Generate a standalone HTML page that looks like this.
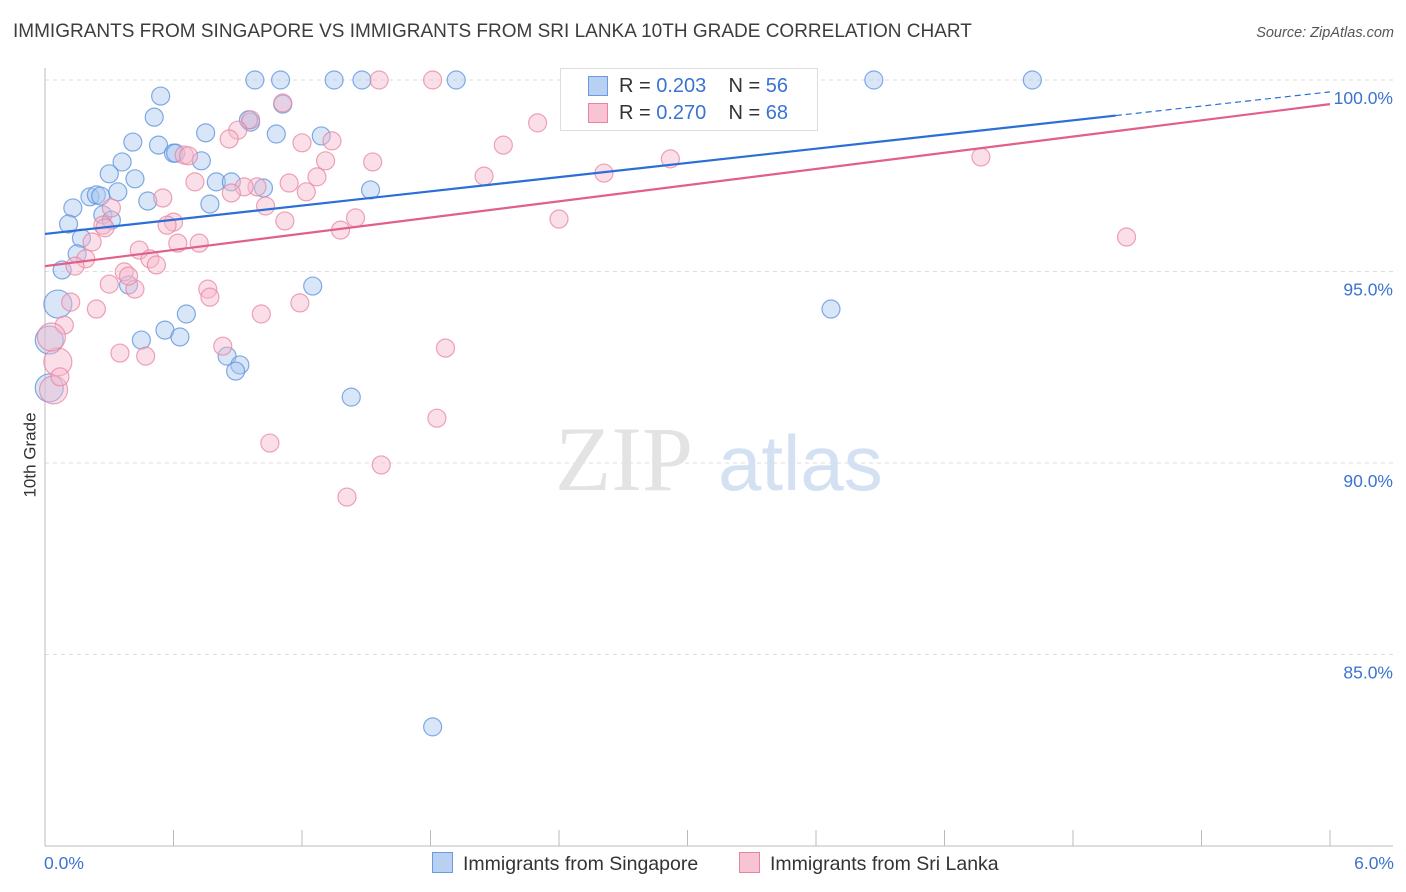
<!DOCTYPE html>
<html><head><meta charset="utf-8"><style>
body{margin:0;background:#fff;font-family:"Liberation Sans",sans-serif}
#wrap{position:relative;width:1406px;height:892px;overflow:hidden}
.t{position:absolute;white-space:nowrap}
</style></head><body>
<div id="wrap">
<div class="t" style="left:13px;top:21px;font-size:19px;color:#3d3d3d">IMMIGRANTS FROM SINGAPORE VS IMMIGRANTS FROM SRI LANKA 10TH GRADE CORRELATION CHART</div>
<div class="t" style="right:12px;top:25px;font-size:14.5px;color:#555;font-style:italic">Source: ZipAtlas.com</div>
<svg id="svg" width="1406" height="892" style="position:absolute;left:0;top:0"></svg>
</div>
<script>
const xTicks=[0,0.6,1.2,1.8,2.4,3.0,3.6,4.2,4.8,5.4,6.0];
const yTicks=[85,90,95,100];
const yTickLabels=["85.0%","90.0%","95.0%","100.0%"];
const sgX=[0.98,1.10,1.35,1.48,1.92,3.08,3.87,4.61,0.54,1.11,0.51,0.96,0.75,0.41,0.53,0.60,0.61,0.73,1.08,1.29,0.36,0.30,0.42,0.80,0.87,1.02,1.52,0.21,0.24,0.26,0.34,0.48,0.77,0.13,0.27,0.31,0.11,0.17,0.15,0.08,0.39,1.25,0.06,3.67,0.66,0.56,0.63,0.45,0.85,0.91,0.89,1.43,1.81,0.02,0.02,0.95];
const sgY=[100,100,100,100,100,100,100,100,99.58,99.37,99.03,98.90,98.62,98.38,98.30,98.09,98.09,97.89,98.59,98.54,97.86,97.55,97.42,97.34,97.34,97.18,97.13,96.95,97.00,96.97,97.08,96.84,96.76,96.66,96.48,96.34,96.24,95.87,95.46,95.04,94.65,94.62,94.15,94.02,93.89,93.47,93.29,93.21,92.79,92.56,92.40,91.72,83.11,93.21,91.96,98.96];
const sgBig=[42,53,54];
const slX=[1.56,1.81,1.11,0.96,2.30,0.90,0.86,1.20,2.14,1.34,0.65,0.67,2.92,1.53,1.31,4.37,0.70,1.14,1.27,0.99,0.93,0.87,1.22,2.05,2.61,1.03,0.31,1.12,2.40,1.45,1.38,0.55,0.60,0.57,0.27,0.22,0.72,0.62,5.05,0.44,0.19,0.49,0.52,0.14,0.37,0.30,0.42,0.76,0.77,1.19,0.24,1.01,0.09,0.83,1.87,0.35,0.47,0.06,1.05,1.83,1.57,1.41,0.04,0.39,0.03,0.28,0.12,0.07];
const slY=[100,100,99.40,98.96,98.88,98.69,98.46,98.36,98.30,98.41,98.04,98.02,97.94,97.86,97.89,97.99,97.34,97.31,97.47,97.21,97.21,97.05,97.08,97.49,97.57,96.71,96.66,96.32,96.37,96.40,96.08,96.92,96.29,96.21,96.21,95.77,95.74,95.74,95.90,95.56,95.33,95.33,95.17,95.14,94.99,94.67,94.54,94.54,94.33,94.18,94.02,93.89,93.60,93.05,93.00,92.87,92.79,92.64,90.52,91.17,89.95,89.11,91.91,94.88,93.29,96.14,94.20,92.25];
const slBig=[57,62,64];
const sgLine=[95.98,99.69,5.0];
const slLine=[95.14,99.37];
const X0=45,X1=1330,Y100=80,PPU=38.3;
const sx=v=>X0+(X1-X0)*v/6;
const sy=v=>Y100+(100-v)*PPU;
const svg=document.getElementById('svg');
const NS='http://www.w3.org/2000/svg';
function mk(tag,attrs,parent){const e=document.createElementNS(NS,tag);for(const k in attrs)e.setAttribute(k,attrs[k]);(parent||svg).appendChild(e);return e;}
yTicks.forEach((v,i)=>{
 const g=mk('line',{x1:45,x2:1393,y1:sy(v),y2:sy(v),stroke:'#ddd','stroke-dasharray':'4,4'});
 
 
 const t=mk('text',{x:1393,y:sy(v)+24,'text-anchor':'end','font-size':'17.5',fill:'#3b73d1','font-family':'Liberation Sans, sans-serif'});
 t.textContent=yTickLabels[i];
 
 
});
mk('line',{x1:45,x2:45,y1:68,y2:846,stroke:'#bbb'});
mk('line',{x1:45,x2:1393,y1:846,y2:846,stroke:'#bbb'});
xTicks.forEach(v=>{
 const l=mk('line',{x1:sx(v),x2:sx(v),y1:830,y2:846,stroke:'#bbb'});
 
 
});
const w=mk('text',{x:555,y:490,'font-size':'92','font-family':'Liberation Serif, serif',fill:'#e3e3e3'});w.textContent='ZIP';


const w2=mk('text',{x:718,y:490,'font-size':'78','font-family':'Liberation Sans, sans-serif',fill:'#d4e1f3'});w2.textContent='atlas';


function pts(xs,ys,big,fill,stroke,name){
 xs.forEach((x,i)=>{
  const r=big.includes(i)?14:9;
  const c=mk('circle',{cx:sx(x),cy:sy(ys[i]),r:r,fill:fill,'fill-opacity':0.45,stroke:stroke,'stroke-opacity':0.75,'stroke-width':1.2});
  
  
 });
}
pts(sgX,sgY,sgBig,'#a9c8f0','#5a90dc','singapore-point');
pts(slX,slY,slBig,'#f7b9cb','#e8849f','sri-lanka-point');
const s1=(sgLine[1]-sgLine[0])/6;
const a=mk('line',{x1:sx(0),y1:sy(sgLine[0]),x2:sx(sgLine[2]),y2:sy(sgLine[0]+s1*sgLine[2]),stroke:'#2b6fd6','stroke-width':2.2});


const b=mk('line',{x1:sx(sgLine[2]),y1:sy(sgLine[0]+s1*sgLine[2]),x2:sx(6),y2:sy(sgLine[1]),stroke:'#2b6fd6','stroke-width':1.2,'stroke-dasharray':'6,4'});


const c=mk('line',{x1:sx(0),y1:sy(slLine[0]),x2:sx(6),y2:sy(slLine[1]),stroke:'#e0608a','stroke-width':2.2});


</script>
<div class="t" style="left:44px;top:853px;font-size:17.5px;color:#3b73d1">0.0%</div>
<div class="t" style="right:12px;top:853px;font-size:17.5px;color:#3b73d1">6.0%</div>
<div class="t" style="left:-12px;top:445px;font-size:17px;color:#333;transform:rotate(-90deg)">10th Grade</div>
<div style="position:absolute;left:560px;top:68px;width:256px;height:61px;border:1px solid #ddd;background:#fff;font-size:20px;color:#333">
 <div style="position:absolute;left:27px;top:7px;width:18px;height:18px;background:#b8d1f3;border:1px solid #6a9ae0"></div>
 <div class="t" style="left:58px;top:6px">R = <span style="color:#3b73d1">0.203</span>&nbsp;&nbsp;&nbsp;&nbsp;N = <span style="color:#3b73d1">56</span></div>
 <div style="position:absolute;left:27px;top:34px;width:18px;height:18px;background:#f8c3d3;border:1px solid #e8849f"></div>
 <div class="t" style="left:58px;top:33px">R = <span style="color:#3b73d1">0.270</span>&nbsp;&nbsp;&nbsp;&nbsp;N = <span style="color:#3b73d1">68</span></div>
</div>
<div style="position:absolute;left:432px;top:852px;font-size:19.5px;color:#333;white-space:nowrap">
 <span style="display:inline-block;width:19px;height:19px;background:#b8d1f3;border:1px solid #6a9ae0;vertical-align:-3px;margin-right:10px"></span>Immigrants from Singapore</div>
<div style="position:absolute;left:739px;top:852px;font-size:19.5px;color:#333;white-space:nowrap">
 <span style="display:inline-block;width:19px;height:19px;background:#f8c3d3;border:1px solid #e8849f;vertical-align:-3px;margin-right:10px"></span>Immigrants from Sri Lanka</div>
</body></html>
